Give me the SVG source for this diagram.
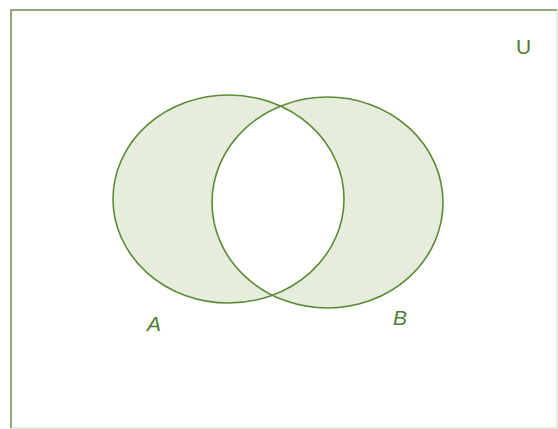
<svg xmlns="http://www.w3.org/2000/svg" width="558" height="429" viewBox="0 0 558 429">
<style>
.edge{fill:none;stroke:#6b8f4a;stroke-width:1.5}
.faint{fill:none;stroke:#dce8cf;stroke-width:1.5}
.set{fill:none;stroke:#5b8a36;stroke-width:1.6}
.shade{fill:#e6eddc;fill-rule:evenodd;stroke:none}
.lbl{font-family:"Liberation Sans",Arial,sans-serif;font-size:21px;fill:#4f7d33}
.it{font-style:italic}
</style>
<rect width="558" height="429" fill="#ffffff"/>
<g id="universe">
<path class="faint" d="M557,10 V428 H11"/>
<path class="edge" d="M11,428 V10 H557"/>
<text class="lbl" x="516" y="54">U</text>
</g>
<path class="shade" d="M113,199 A115.5,104 0 1,0 344,199 A115.5,104 0 1,0 113,199 Z M212,202.5 A115.5,105.5 0 1,0 443,202.5 A115.5,105.5 0 1,0 212,202.5 Z"/>
<g id="setA">
<ellipse class="set" cx="228.5" cy="199" rx="115.5" ry="104"/>
<text class="lbl it" x="147" y="331">A</text>
</g>
<g id="setB">
<ellipse class="set" cx="327.5" cy="202.5" rx="115.5" ry="105.5"/>
<text class="lbl it" x="393" y="325">B</text>
</g>
</svg>
